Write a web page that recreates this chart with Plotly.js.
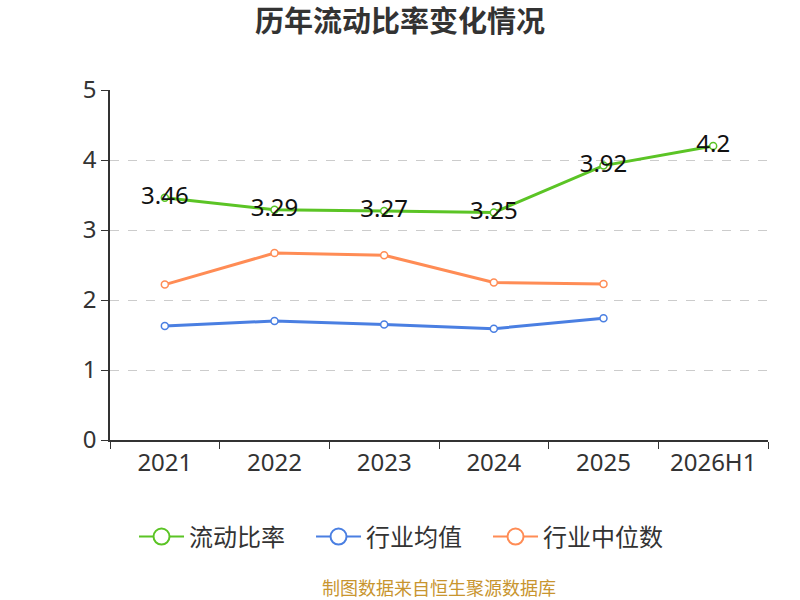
<!DOCTYPE html>
<html>
<head>
<meta charset="utf-8">
<script src="https://cdn.plot.ly/plotly-3.0.1.min.js"></script>
<style>
  body { margin: 0; background: #fff; }
  #chart { width: 800px; height: 600px; }
</style>
</head>
<body>
<div id="chart"></div>
<script>
var years = ['2021', '2022', '2023', '2024', '2025', '2026H1'];
var currentRatio = [3.46, 3.29, 3.27, 3.25, 3.92, 4.2];
var industryMean = [1.63, 1.70, 1.65, 1.59, 1.74];
var industryMedian = [2.22, 2.67, 2.64, 2.25, 2.23];

var names = ['流动比率', '行业均值', '行业中位数'];
var colors = ['#5bc425', '#4a7fe2', '#ff8c55'];

var font = '"Noto Sans", "Noto Sans CJK SC", sans-serif';

function lineTrace(x, y, i) {
    return {
        x: x, y: y,
        name: names[i],
        type: 'scatter',
        mode: 'lines+markers',
        showlegend: false,
        line: {color: colors[i], width: 3},
        marker: {size: 7, color: '#fff', line: {color: colors[i], width: 1.5}}
    };
}

var trace1 = lineTrace(years, currentRatio, 0);
trace1.mode = 'lines+markers+text';
trace1.text = currentRatio.map(String);
trace1.textposition = 'middle center';
trace1.textfont = {size: 24, color: '#111', family: font};

var trace2 = lineTrace(years.slice(0, 5), industryMean, 1);
var trace3 = lineTrace(years.slice(0, 5), industryMedian, 2);

// legend-only entries with larger symbols
var legendTraces = names.map(function (n, i) {
    return {
        x: [null], y: [null],
        name: n,
        type: 'scatter',
        mode: 'lines+markers',
        line: {color: colors[i], width: 2},
        marker: {size: 16, color: '#fff', line: {color: colors[i], width: 2}}
    };
});

var layout = {
    width: 800, height: 600,
    margin: {l: 110, r: 32, t: 90, b: 160},
    paper_bgcolor: '#fff', plot_bgcolor: '#fff',
    font: {family: font, color: '#333'},
    title: {
        text: '<b>历年流动比率变化情况</b>',
        x: 0.5, xanchor: 'center', y: 0.963, yanchor: 'middle',
        font: {size: 29, color: '#333', family: font}
    },
    xaxis: {
        type: 'category',
        range: [-0.5, 5.5],
        showline: true, linecolor: '#333', linewidth: 1.5,
        ticks: 'outside', tickson: 'boundaries', ticklen: 7, tickcolor: '#333',
        showgrid: false, zeroline: false,
        tickfont: {size: 24, color: '#333', family: font}
    },
    yaxis: {
        range: [0, 5],
        dtick: 1,
        showline: true, linecolor: '#333', linewidth: 1.5,
        ticks: 'outside', ticklen: 7, tickcolor: '#333',
        showgrid: true, gridcolor: '#cccccc', griddash: 'dash', gridwidth: 1,
        zeroline: false,
        tickfont: {size: 24, color: '#333', family: font}
    },
    legend: {
        orientation: 'h',
        x: 0.44, xanchor: 'center',
        y: -0.277, yanchor: 'middle',
        font: {size: 24, color: '#333', family: font},
        itemwidth: 45,
        entrywidth: 117,
        entrywidthmode: 'pixels'
    },
    annotations: [{
        text: '制图数据来自恒生聚源数据库',
        xref: 'paper', yref: 'paper',
        x: 0.5, xanchor: 'center',
        y: -0.423, yanchor: 'middle',
        showarrow: false,
        font: {size: 18, color: '#c8952f', family: font}
    }],
    showlegend: true
};

Plotly.newPlot('chart', [trace1, trace2, trace3].concat(legendTraces), layout, {displayModeBar: false});
</script>
</body>
</html>
